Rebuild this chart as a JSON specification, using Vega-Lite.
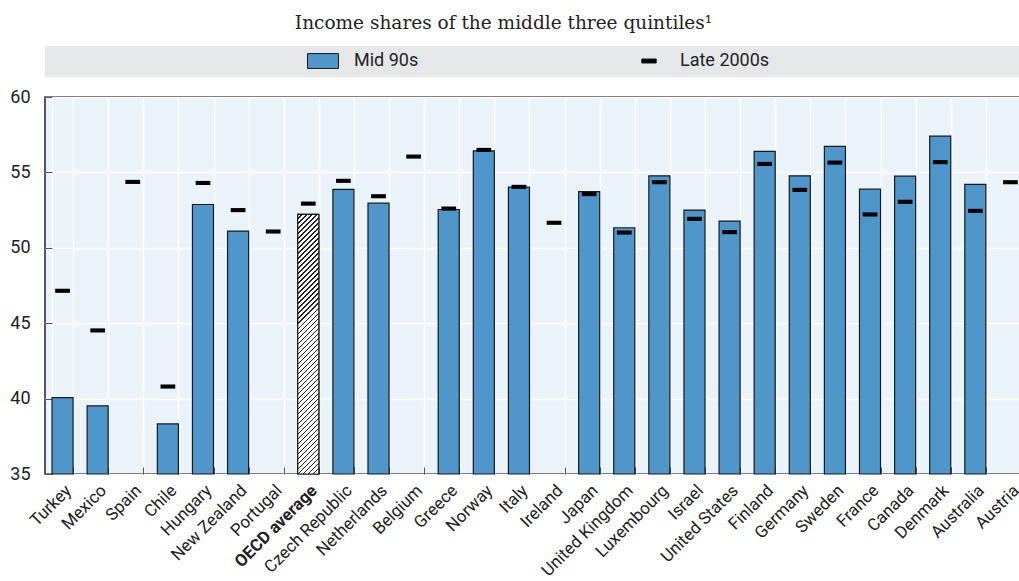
{
  "$schema": "https://vega.github.io/schema/vega-lite/v6.json",
  "autosize": "none",
  "padding": {"left": 45, "top": 97, "right": 0, "bottom": 107},
  "width": 975,
  "height": 377,
  "title": {
    "text": "Income shares of the middle three quintiles¹",
    "font": "DejaVu Serif",
    "fontSize": 18.5,
    "fontWeight": "normal",
    "color": "#222222",
    "anchor": "middle",
    "offset": 14,
    "dx": -29
  },
  "data": {
    "values": [
      {"country": "Turkey", "Mid 90s": 40.07, "Late 2000s": 47.15},
      {"country": "Mexico", "Mid 90s": 39.52, "Late 2000s": 44.52},
      {"country": "Spain", "Mid 90s": null, "Late 2000s": 54.37},
      {"country": "Chile", "Mid 90s": 38.32, "Late 2000s": 40.8},
      {"country": "Hungary", "Mid 90s": 52.87, "Late 2000s": 54.3},
      {"country": "New Zealand", "Mid 90s": 51.11, "Late 2000s": 52.5},
      {"country": "Portugal", "Mid 90s": null, "Late 2000s": 51.08},
      {"country": "OECD average", "Mid 90s": 52.21, "Late 2000s": 52.93},
      {"country": "Czech Republic", "Mid 90s": 53.87, "Late 2000s": 54.44},
      {"country": "Netherlands", "Mid 90s": 52.96, "Late 2000s": 53.42},
      {"country": "Belgium", "Mid 90s": null, "Late 2000s": 56.05},
      {"country": "Greece", "Mid 90s": 52.54, "Late 2000s": 52.6},
      {"country": "Norway", "Mid 90s": 56.43, "Late 2000s": 56.49},
      {"country": "Italy", "Mid 90s": 54.02, "Late 2000s": 54.04},
      {"country": "Ireland", "Mid 90s": null, "Late 2000s": 51.66},
      {"country": "Japan", "Mid 90s": 53.73, "Late 2000s": 53.56},
      {"country": "United Kingdom", "Mid 90s": 51.33, "Late 2000s": 51.01},
      {"country": "Luxembourg", "Mid 90s": 54.77, "Late 2000s": 54.35},
      {"country": "Israel", "Mid 90s": 52.5, "Late 2000s": 51.92},
      {"country": "United States", "Mid 90s": 51.77, "Late 2000s": 51.04},
      {"country": "Finland", "Mid 90s": 56.4, "Late 2000s": 55.56},
      {"country": "Germany", "Mid 90s": 54.77, "Late 2000s": 53.84},
      {"country": "Sweden", "Mid 90s": 56.73, "Late 2000s": 55.65},
      {"country": "France", "Mid 90s": 53.89, "Late 2000s": 52.21},
      {"country": "Canada", "Mid 90s": 54.75, "Late 2000s": 53.05},
      {"country": "Denmark", "Mid 90s": 57.4, "Late 2000s": 55.68},
      {"country": "Australia", "Mid 90s": 54.2, "Late 2000s": 52.45},
      {"country": "Austria", "Mid 90s": null, "Late 2000s": 54.35}
    ]
  },
  "transform": [{"fold": ["Mid 90s", "Late 2000s"], "as": ["series", "value"]}],
  "encoding": {
    "x": {
      "field": "country",
      "type": "nominal",
      "title": null,
      "scale": {
        "domain": ["Turkey", "Mexico", "Spain", "Chile", "Hungary", "New Zealand", "Portugal", "OECD average", "Czech Republic", "Netherlands", "Belgium", "Greece", "Norway", "Italy", "Ireland", "Japan", "United Kingdom", "Luxembourg", "Israel", "United States", "Finland", "Germany", "Sweden", "France", "Canada", "Denmark", "Australia", "Austria"],
        "range": [0, 983],
        "paddingInner": 0.4,
        "paddingOuter": 0.2
      },
      "axis": {
        "labelAngle": -45,
        "labelFont": "Roboto",
        "labelFontSize": 17,
        "labelColor": "#222222",
        "labelPadding": 15,
        "labelFontWeight": {"condition": {"test": "datum.value === 'OECD average'", "value": "bold"}, "value": "normal"},
        "tickBand": "extent",
        "tickSize": -7,
        "tickColor": "#555555",
        "tickWidth": 1,
        "domain": false,
        "grid": true,
        "gridColor": "#ffffff",
        "gridWidth": 1.5
      }
    },
    "y": {
      "field": "value",
      "type": "quantitative",
      "title": null,
      "scale": {"domain": [35, 60], "zero": false, "nice": false},
      "axis": {
        "values": [35, 40, 45, 50, 55, 60],
        "labelFont": "Roboto",
        "labelFontSize": 18,
        "labelColor": "#222222",
        "labelPadding": 22,
        "tickSize": -7,
        "tickColor": "#555555",
        "domain": false,
        "grid": true,
        "gridColor": "#ffffff",
        "gridWidth": 1.5
      }
    }
  },
  "layer": [
    {
      "transform": [{"filter": "datum.series === 'Mid 90s' && isValid(datum.value)"}],
      "mark": {"type": "bar", "stroke": "#1a1a1a", "strokeWidth": 1.2},
      "encoding": {
        "y2": {"datum": 35},
        "color": {
          "field": "series",
          "type": "nominal",
          "scale": {"domain": ["Mid 90s", "Late 2000s"], "range": ["#4f96ca", "#000000"]},
          "legend": {"title": "\u00a0", "labelExpr": "datum.label === 'Late 2000s' ? pad(datum.label, 65, '\u00a0') + '\u200b' : datum.label"}
        }
      }
    },
    {
      "transform": [{"filter": "datum.series === 'Mid 90s' && datum.country === 'OECD average'"}],
      "mark": {
        "type": "bar",
        "stroke": "#1a1a1a",
        "strokeWidth": 1.2,
        "fill": {
          "gradient": "linear",
          "x1": 0, "y1": 0, "x2": 0.0872, "y2": 1.0742,
          "stops": [
            {"offset":0,"color":"#fff"},{"offset":0.0125,"color":"#fff"},{"offset":0.0125,"color":"#222"},{"offset":0.0179,"color":"#222"},
            {"offset":0.0179,"color":"#fff"},{"offset":0.0304,"color":"#fff"},{"offset":0.0304,"color":"#222"},{"offset":0.0357,"color":"#222"},
            {"offset":0.0357,"color":"#fff"},{"offset":0.0482,"color":"#fff"},{"offset":0.0482,"color":"#222"},{"offset":0.0536,"color":"#222"},
            {"offset":0.0536,"color":"#fff"},{"offset":0.0661,"color":"#fff"},{"offset":0.0661,"color":"#222"},{"offset":0.0714,"color":"#222"},
            {"offset":0.0714,"color":"#fff"},{"offset":0.0839,"color":"#fff"},{"offset":0.0839,"color":"#222"},{"offset":0.0893,"color":"#222"},
            {"offset":0.0893,"color":"#fff"},{"offset":0.1018,"color":"#fff"},{"offset":0.1018,"color":"#222"},{"offset":0.1071,"color":"#222"},
            {"offset":0.1071,"color":"#fff"},{"offset":0.1196,"color":"#fff"},{"offset":0.1196,"color":"#222"},{"offset":0.125,"color":"#222"},
            {"offset":0.125,"color":"#fff"},{"offset":0.1375,"color":"#fff"},{"offset":0.1375,"color":"#222"},{"offset":0.1429,"color":"#222"},
            {"offset":0.1429,"color":"#fff"},{"offset":0.1554,"color":"#fff"},{"offset":0.1554,"color":"#222"},{"offset":0.1607,"color":"#222"},
            {"offset":0.1607,"color":"#fff"},{"offset":0.1732,"color":"#fff"},{"offset":0.1732,"color":"#222"},{"offset":0.1786,"color":"#222"},
            {"offset":0.1786,"color":"#fff"},{"offset":0.1911,"color":"#fff"},{"offset":0.1911,"color":"#222"},{"offset":0.1964,"color":"#222"},
            {"offset":0.1964,"color":"#fff"},{"offset":0.2089,"color":"#fff"},{"offset":0.2089,"color":"#222"},{"offset":0.2143,"color":"#222"},
            {"offset":0.2143,"color":"#fff"},{"offset":0.2268,"color":"#fff"},{"offset":0.2268,"color":"#222"},{"offset":0.2321,"color":"#222"},
            {"offset":0.2321,"color":"#fff"},{"offset":0.2446,"color":"#fff"},{"offset":0.2446,"color":"#222"},{"offset":0.25,"color":"#222"},
            {"offset":0.25,"color":"#fff"},{"offset":0.2625,"color":"#fff"},{"offset":0.2625,"color":"#222"},{"offset":0.2679,"color":"#222"},
            {"offset":0.2679,"color":"#fff"},{"offset":0.2804,"color":"#fff"},{"offset":0.2804,"color":"#222"},{"offset":0.2857,"color":"#222"},
            {"offset":0.2857,"color":"#fff"},{"offset":0.2982,"color":"#fff"},{"offset":0.2982,"color":"#222"},{"offset":0.3036,"color":"#222"},
            {"offset":0.3036,"color":"#fff"},{"offset":0.3161,"color":"#fff"},{"offset":0.3161,"color":"#222"},{"offset":0.3214,"color":"#222"},
            {"offset":0.3214,"color":"#fff"},{"offset":0.3339,"color":"#fff"},{"offset":0.3339,"color":"#222"},{"offset":0.3393,"color":"#222"},
            {"offset":0.3393,"color":"#fff"},{"offset":0.3518,"color":"#fff"},{"offset":0.3518,"color":"#222"},{"offset":0.3571,"color":"#222"},
            {"offset":0.3571,"color":"#fff"},{"offset":0.3696,"color":"#fff"},{"offset":0.3696,"color":"#222"},{"offset":0.375,"color":"#222"},
            {"offset":0.375,"color":"#fff"},{"offset":0.3875,"color":"#fff"},{"offset":0.3875,"color":"#222"},{"offset":0.3929,"color":"#222"},
            {"offset":0.3929,"color":"#fff"},{"offset":0.4054,"color":"#fff"},{"offset":0.4054,"color":"#222"},{"offset":0.4107,"color":"#222"},
            {"offset":0.4107,"color":"#fff"},{"offset":0.4232,"color":"#fff"},{"offset":0.4232,"color":"#222"},{"offset":0.4286,"color":"#222"},
            {"offset":0.4286,"color":"#fff"},{"offset":0.4411,"color":"#fff"},{"offset":0.4411,"color":"#222"},{"offset":0.4464,"color":"#222"},
            {"offset":0.4464,"color":"#fff"},{"offset":0.4589,"color":"#fff"},{"offset":0.4589,"color":"#222"},{"offset":0.4643,"color":"#222"},
            {"offset":0.4643,"color":"#fff"},{"offset":0.4768,"color":"#fff"},{"offset":0.4768,"color":"#222"},{"offset":0.4821,"color":"#222"},
            {"offset":0.4821,"color":"#fff"},{"offset":0.4946,"color":"#fff"},{"offset":0.4946,"color":"#222"},{"offset":0.5,"color":"#222"},
            {"offset":0.5,"color":"#fff"},{"offset":0.5125,"color":"#fff"},{"offset":0.5125,"color":"#222"},{"offset":0.5179,"color":"#222"},
            {"offset":0.5179,"color":"#fff"},{"offset":0.5304,"color":"#fff"},{"offset":0.5304,"color":"#222"},{"offset":0.5357,"color":"#222"},
            {"offset":0.5357,"color":"#fff"},{"offset":0.5482,"color":"#fff"},{"offset":0.5482,"color":"#222"},{"offset":0.5536,"color":"#222"},
            {"offset":0.5536,"color":"#fff"},{"offset":0.5661,"color":"#fff"},{"offset":0.5661,"color":"#222"},{"offset":0.5714,"color":"#222"},
            {"offset":0.5714,"color":"#fff"},{"offset":0.5839,"color":"#fff"},{"offset":0.5839,"color":"#222"},{"offset":0.5893,"color":"#222"},
            {"offset":0.5893,"color":"#fff"},{"offset":0.6018,"color":"#fff"},{"offset":0.6018,"color":"#222"},{"offset":0.6071,"color":"#222"},
            {"offset":0.6071,"color":"#fff"},{"offset":0.6196,"color":"#fff"},{"offset":0.6196,"color":"#222"},{"offset":0.625,"color":"#222"},
            {"offset":0.625,"color":"#fff"},{"offset":0.6375,"color":"#fff"},{"offset":0.6375,"color":"#222"},{"offset":0.6429,"color":"#222"},
            {"offset":0.6429,"color":"#fff"},{"offset":0.6554,"color":"#fff"},{"offset":0.6554,"color":"#222"},{"offset":0.6607,"color":"#222"},
            {"offset":0.6607,"color":"#fff"},{"offset":0.6732,"color":"#fff"},{"offset":0.6732,"color":"#222"},{"offset":0.6786,"color":"#222"},
            {"offset":0.6786,"color":"#fff"},{"offset":0.6911,"color":"#fff"},{"offset":0.6911,"color":"#222"},{"offset":0.6964,"color":"#222"},
            {"offset":0.6964,"color":"#fff"},{"offset":0.7089,"color":"#fff"},{"offset":0.7089,"color":"#222"},{"offset":0.7143,"color":"#222"},
            {"offset":0.7143,"color":"#fff"},{"offset":0.7268,"color":"#fff"},{"offset":0.7268,"color":"#222"},{"offset":0.7321,"color":"#222"},
            {"offset":0.7321,"color":"#fff"},{"offset":0.7446,"color":"#fff"},{"offset":0.7446,"color":"#222"},{"offset":0.75,"color":"#222"},
            {"offset":0.75,"color":"#fff"},{"offset":0.7625,"color":"#fff"},{"offset":0.7625,"color":"#222"},{"offset":0.7679,"color":"#222"},
            {"offset":0.7679,"color":"#fff"},{"offset":0.7804,"color":"#fff"},{"offset":0.7804,"color":"#222"},{"offset":0.7857,"color":"#222"},
            {"offset":0.7857,"color":"#fff"},{"offset":0.7982,"color":"#fff"},{"offset":0.7982,"color":"#222"},{"offset":0.8036,"color":"#222"},
            {"offset":0.8036,"color":"#fff"},{"offset":0.8161,"color":"#fff"},{"offset":0.8161,"color":"#222"},{"offset":0.8214,"color":"#222"},
            {"offset":0.8214,"color":"#fff"},{"offset":0.8339,"color":"#fff"},{"offset":0.8339,"color":"#222"},{"offset":0.8393,"color":"#222"},
            {"offset":0.8393,"color":"#fff"},{"offset":0.8518,"color":"#fff"},{"offset":0.8518,"color":"#222"},{"offset":0.8571,"color":"#222"},
            {"offset":0.8571,"color":"#fff"},{"offset":0.8696,"color":"#fff"},{"offset":0.8696,"color":"#222"},{"offset":0.875,"color":"#222"},
            {"offset":0.875,"color":"#fff"},{"offset":0.8875,"color":"#fff"},{"offset":0.8875,"color":"#222"},{"offset":0.8929,"color":"#222"},
            {"offset":0.8929,"color":"#fff"},{"offset":0.9054,"color":"#fff"},{"offset":0.9054,"color":"#222"},{"offset":0.9107,"color":"#222"},
            {"offset":0.9107,"color":"#fff"},{"offset":0.9232,"color":"#fff"},{"offset":0.9232,"color":"#222"},{"offset":0.9286,"color":"#222"},
            {"offset":0.9286,"color":"#fff"},{"offset":0.9411,"color":"#fff"},{"offset":0.9411,"color":"#222"},{"offset":0.9464,"color":"#222"},
            {"offset":0.9464,"color":"#fff"},{"offset":0.9589,"color":"#fff"},{"offset":0.9589,"color":"#222"},{"offset":0.9643,"color":"#222"},
            {"offset":0.9643,"color":"#fff"},{"offset":0.9768,"color":"#fff"},{"offset":0.9768,"color":"#222"},{"offset":0.9821,"color":"#222"},
            {"offset":0.9821,"color":"#fff"},{"offset":0.9946,"color":"#fff"},{"offset":0.9946,"color":"#222"},{"offset":1,"color":"#222"}
          ]
        }
      },
      "encoding": {"y2": {"datum": 35}}
    },
    {
      "transform": [{"filter": "datum.series === 'Late 2000s' && isValid(datum.value)"}],
      "mark": {"type": "point", "filled": true, "opacity": 1, "size": 1000, "strokeWidth": 0},
      "encoding": {
        "color": {
          "field": "series",
          "type": "nominal",
          "scale": {"domain": ["Mid 90s", "Late 2000s"], "range": ["#4f96ca", "#000000"]},
          "legend": {"title": "\u00a0", "labelExpr": "datum.label === 'Late 2000s' ? pad(datum.label, 65, '\u00a0') + '\u200b' : datum.label"}
        },
        "shape": {
          "field": "series",
          "type": "nominal",
          "scale": {"domain": ["Mid 90s", "Late 2000s"], "range": ["M-1,-0.48H1V0.48H-1Z", "M-0.465,-0.13H0.465V0.13H-0.465Z"]},
          "legend": {"title": "\u00a0", "labelExpr": "datum.label === 'Late 2000s' ? pad(datum.label, 65, '\u00a0') + '\u200b' : datum.label"}
        }
      }
    }
  ],
  "config": {
    "view": {"fill": "#ebf3fa", "stroke": "#222222", "strokeWidth": 1.5},
    "legend": {
      "orient": "none",
      "legendX": 0,
      "legendY": -51,
      "direction": "horizontal",
      "titleOrient": "left",
      "titleFontSize": 1,
      "titlePadding": 255,
      "padding": 7,
      "fillColor": "#e6e7e9",
      "clipHeight": 16,
      "symbolSize": 961,
      "symbolStrokeColor": "#1a1a1a",
      "symbolStrokeWidth": 1,
      "labelOffset": 15,
      "columnPadding": 214,
      "labelFont": "Roboto",
      "labelFontSize": 18,
      "labelColor": "#222222",
      "labelLimit": 800
    }
  }
}
